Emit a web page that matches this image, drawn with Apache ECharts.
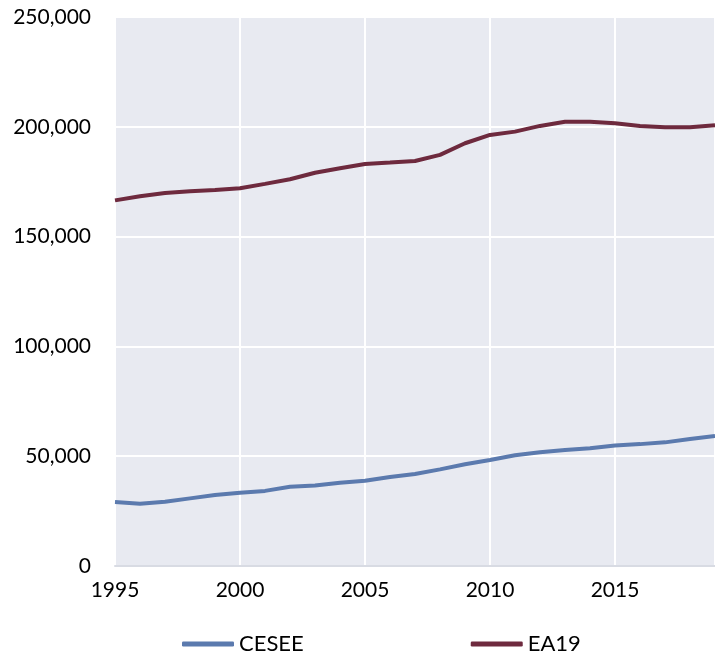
<!DOCTYPE html>
<html>
<head>
<meta charset="utf-8">
<script src="https://cdn.jsdelivr.net/npm/echarts@6/dist/echarts.min.js"></script>
<style>
  html, body { margin: 0; padding: 0; background: #fff; }
  #chart { width: 715px; height: 651px; }
</style>
</head>
<body>
<div id="chart"></div>
<script>
// years on the x axis
var years = [1995, 1996, 1997, 1998, 1999, 2000, 2001, 2002, 2003, 2004, 2005, 2006,
             2007, 2008, 2009, 2010, 2011, 2012, 2013, 2014, 2015, 2016, 2017, 2018, 2019];
// CESEE values
var cesee = [29100, 28400, 29300, 30800, 32300, 33400, 34200, 36100, 36700, 37900, 38800, 40500,
             41900, 44000, 46300, 48300, 50400, 51800, 52800, 53600, 54900, 55500, 56300, 57800, 59200];
// EA19 values
var ea19 = [166500, 168400, 169900, 170600, 171200, 172000, 174000, 176100, 179100, 181100, 183100, 183700,
            184400, 187200, 192500, 196300, 197800, 200400, 202300, 202300, 201600, 200400, 199800, 199800, 200700];

function pairs(vals) {
    var out = [];
    for (var i = 0; i < years.length; i++) {
        out.push([years[i], vals[i]]);
    }
    return out;
}

var font = 'Lato, "DejaVu Sans", sans-serif';
var chart = echarts.init(document.getElementById('chart'));

var option = {
    animation: false,
    backgroundColor: '#fff',
    grid: {
        left: 115,
        right: 0,
        top: 17,
        bottom: 85,
        show: true,
        backgroundColor: '#E8EAF1',
        borderWidth: 0
    },
    legend: {
        top: 628,
        left: 177,
        itemWidth: 52,
        itemHeight: 5,
        itemGap: 167,
        icon: 'roundRect',
        textStyle: { fontFamily: font, fontSize: 22, color: '#000' },
        data: ['CESEE', 'EA19']
    },
    xAxis: {
        type: 'value',
        min: 1995,
        max: 2019,
        interval: 5,
        axisLine: { show: true, lineStyle: { color: '#D8DBE3', width: 2 } },
        axisTick: { show: false },
        splitLine: { show: true, lineStyle: { color: '#fff', width: 2 } },
        axisLabel: {
            showMaxLabel: false,
            margin: 14,
            fontFamily: font,
            fontSize: 21,
            color: '#000',
            formatter: function (v) { return String(v); }
        }
    },
    yAxis: {
        type: 'value',
        min: 0,
        max: 250000,
        interval: 50000,
        axisLine: { show: false },
        axisTick: { show: false },
        splitLine: { show: true, lineStyle: { color: '#fff', width: 2 } },
        axisLabel: {
            margin: 24,
            fontFamily: font,
            fontSize: 21,
            color: '#000',
            formatter: function (v) { return v.toLocaleString('en-US'); }
        }
    },
    series: [
        {
            name: 'CESEE',
            type: 'line',
            data: pairs(cesee),
            symbol: 'none',
            lineStyle: { color: '#5B7AAE', width: 4 },
            itemStyle: { color: '#5B7AAE' }
        },
        {
            name: 'EA19',
            type: 'line',
            data: pairs(ea19),
            symbol: 'none',
            lineStyle: { color: '#6E2A3E', width: 4 },
            itemStyle: { color: '#6E2A3E' }
        }
    ]
};
chart.setOption(option);
</script>
</body>
</html>
